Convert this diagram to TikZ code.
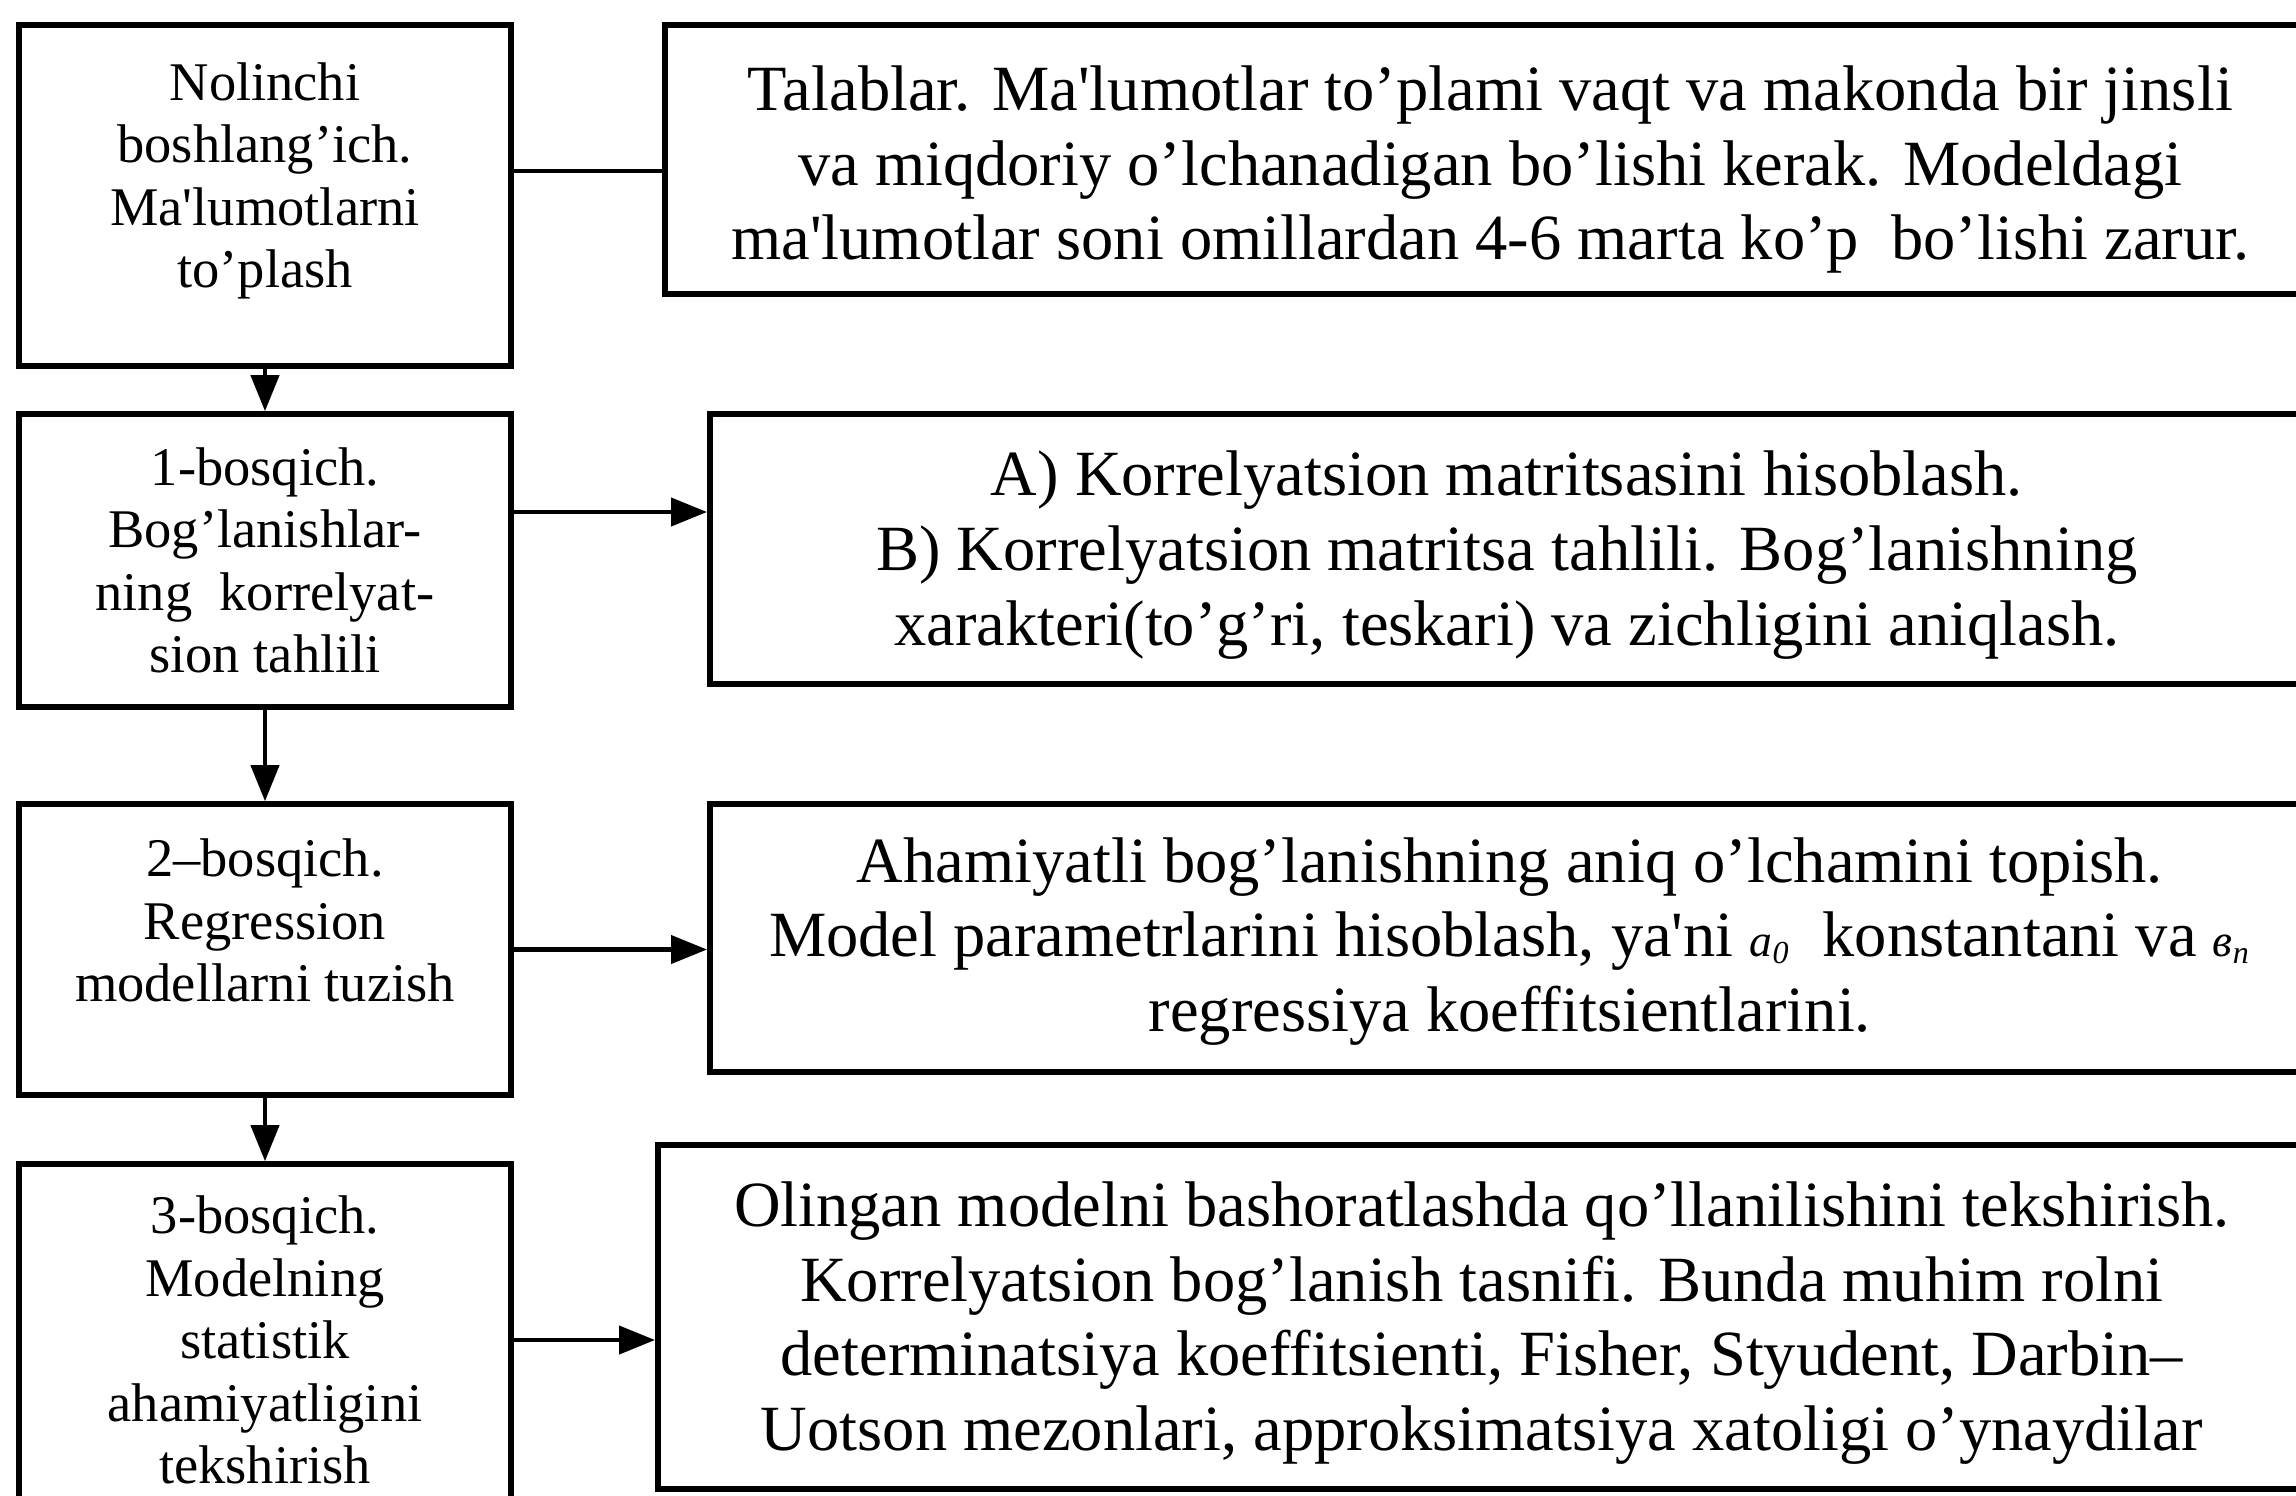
\documentclass[tikz,border=0pt]{standalone}
\usepackage{fontspec}
\setmainfont{Liberation Serif}
\usepackage{tikz}
\usetikzlibrary{arrows.meta}

\newcommand{\coef}[2]{{\fontsize{13}{13}\selectfont\itshape #1\textsubscript{#2}}}

\begin{document}
\begin{tikzpicture}[->,>={Triangle[length=3.6mm,width=2.8mm]},line width=1.2pt]
\tikzstyle{stage}=[draw,line width=1.6pt,minimum width=4.92cm]
\tikzstyle{stagetext}=[align=center,font=\fontsize{15.5}{17.8}\selectfont]
\tikzstyle{info}=[draw,line width=1.6pt,anchor=west]
\tikzstyle{infotext}=[align=center,font=\fontsize{18.35}{21.3}\selectfont]
\useasboundingbox (0,0) rectangle (22.96,-14.95);
\clip (0,0) rectangle (22.96,-14.95);
% left column
\node[stage,minimum height=3.41cm,label={[stagetext,yshift=1.45mm]center:{Nolinchi\\
  boshlang’ich.\\ Ma\textquotesingle lumotlarni\\ to’plash}}] (box0) at (2.65,-1.955) {};
\node[stage,minimum height=2.93cm,label={[stagetext]center:{1-bosqich.\\
  Bog’lanishlar-\\ ning~ korrelyat-\\ sion tahlili}}] (box1) at (2.65,-5.605) {};
\node[stage,minimum height=2.91cm,label={[stagetext,yshift=2.9mm]center:{2–bosqich.\\
  Regression\\ modellarni tuzish}}] (box2) at (2.65,-9.495) {};
\node[stage,minimum height=3.52cm,label={[stagetext]center:{3-bosqich.\\
  Modelning\\ statistik\\ ahamiyatligini\\ tekshirish}}] (box3) at (2.65,-13.40) {};
% right column
\node[info,minimum width=16.51cm,minimum height=2.69cm,label={[infotext,yshift=-1mm]center:{%
   Talablar. Ma\textquotesingle lumotlar to’plami vaqt va makonda bir jinsli\\
   va miqdoriy o’lchanadigan bo’lishi kerak. Modeldagi\\
   ma\textquotesingle lumotlar soni omillardan 4-6 marta ko’p~ bo’lishi zarur.}}]
   (r0) at (6.62,-1.595) {};
\node[info,minimum width=15.94cm,minimum height=2.70cm,label={[infotext,yshift=-0.6mm]center:{%
   A) Korrelyatsion matritsasini hisoblash.\\
   B) Korrelyatsion matritsa tahlili. Bog’lanishning\\
   xarakteri(to’g’ri, teskari) va zichligini aniqlash.}}]
   (r1) at (7.07,-5.49) {};
\node[info,minimum width=16.0cm,minimum height=2.68cm,label={[infotext,yshift=-0.35mm]center:{%
   Ahamiyatli bog’lanishning aniq o’lchamini topish.\\
   Model parametrlarini hisoblash, ya\textquotesingle ni \coef{a}{0}~ konstantani va \coef{в}{n}\\
   regressiya koeffitsientlarini.}}]
   (r2) at (7.07,-9.38) {};
\node[info,minimum width=16.48cm,minimum height=3.44cm,label={[infotext,yshift=-0.6mm]center:{%
   Olingan modelni bashoratlashda qo’llanilishini tekshirish.\\
   Korrelyatsion bog’lanish tasnifi. Bunda muhim rolni\\
   determinatsiya koeffitsienti, Fisher, Styudent, Darbin–\\
   Uotson mezonlari, approksimatsiya xatoligi o’ynaydilar}}]
   (r3) at (6.55,-13.17) {};
% connectors
\coordinate (l0) at ([yshift=2.45mm]box0.east);
\coordinate (l1) at ([yshift=4.85mm]box1.east);
\draw[-] (l0) -- (l0 -| r0.west);
\draw (box0) -- (box1);
\draw (box1) -- (box2);
\draw (box2) -- (box3);
\draw (l1) -- (l1 -| r1.west);
\draw (box2.east) -- (box2.east -| r2.west);
\draw (box3.east) -- (box3.east -| r3.west);
\end{tikzpicture}
\end{document}
